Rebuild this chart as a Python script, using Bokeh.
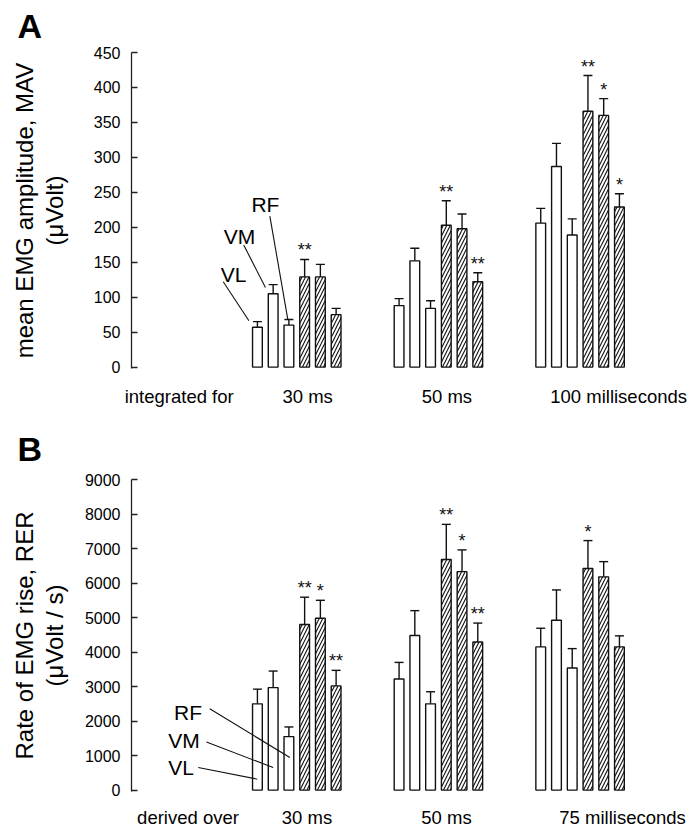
import numpy as np
from bokeh.plotting import figure
from bokeh.models import (Range1d, FixedTicker, ColumnDataSource, Whisker, TeeHead,
                          LinearAxis)
from bokeh.layouts import column
from bokeh.embed import file_html
from bokeh.resources import INLINE
from bokeh.core.properties import value

# ---------------- data ----------------
muscles = ["VL", "VM", "RF"]

groups_A = ["30 ms", "50 ms", "100 milliseconds"]
lead_A = "integrated for"
ytitle_A = ["mean EMG amplitude, MAV", "(\u03bcVolt)"]
yticks_A = [0, 50, 100, 150, 200, 250, 300, 350, 400, 450]

# mean EMG amplitude (uV), per window: VL, VM, RF
mav_open = [[57, 105, 60], [88, 152, 84], [206, 287, 189]]
mav_open_err = [[8, 13, 8], [10, 18, 11], [21, 33, 23]]
mav_hatch = [[129, 129, 75], [203, 198, 122], [366, 360, 229]]
mav_hatch_err = [[25, 18, 9], [35, 21, 13], [51, 24, 19]]
mav_stars = [["**", "", ""], ["**", "", "**"], ["**", "*", "*"]]

groups_B = ["30 ms", "50 ms", "75 milliseconds"]
lead_B = "derived over"
ytitle_B = ["Rate of EMG rise, RER", "(\u03bcVolt / s)"]
yticks_B = [0, 1000, 2000, 3000, 4000, 5000, 6000, 7000, 8000, 9000]

rer_open = [[2500, 2970, 1550], [3220, 4480, 2500], [4150, 4920, 3540]]
rer_open_err = [[425, 480, 280], [480, 720, 350], [540, 880, 560]]
rer_hatch = [[4800, 4980, 3020], [6680, 6330, 4290], [6420, 6180, 4150]]
rer_hatch_err = [[790, 520, 450], [1020, 630, 550], [810, 440, 320]]
rer_stars = [["**", "*", "**"], ["**", "*", "**"], ["*", "", ""]]

# ---------------- style / layout ----------------
FONT = "Liberation Sans"
INK = "#111111"
GROUP_STEP = 9
BAR_W = 0.62
W = 697


def positions():
    xo, xh = [], []
    for g in range(3):
        for j in range(3):
            xo.append(GROUP_STEP * g + j)
            xh.append(GROUP_STEP * g + 3 + j)
    return xo, xh


def flat(a):
    return [v for row in a for v in row]


def make_panel(height, yr, border_top, border_bottom, yticks, vo, eo, vh, eh, stars,
               letter, title_standoff, ytitle, inner_standoff, lead, groups, lab_x,
               lab_standoff, mus_pos, leaders):
    p = figure(width=W, height=height, x_range=Range1d(-8, 27.96), y_range=Range1d(*yr),
               output_backend="svg", toolbar_location=None, title=letter,
               min_border_left=131, min_border_right=0, min_border_top=border_top,
               min_border_bottom=border_bottom)
    p.outline_line_color = None
    p.grid.grid_line_color = None
    p.background_fill_color = "white"
    p.border_fill_color = "white"

    # panel letter as title
    p.title.align = "left"
    p.title.vertical_align = "top"
    p.title.offset = -114
    p.title.standoff = title_standoff
    p.title.text_font = FONT
    p.title.text_font_size = "34px"
    p.title.text_font_style = "bold"
    p.title.text_color = "black"

    ax = p.yaxis[0]
    ax.ticker = FixedTicker(ticks=yticks)
    ax.major_tick_in = 6
    ax.major_tick_out = 0
    ax.minor_tick_line_color = None
    ax.axis_line_color = "#222222"
    ax.axis_line_width = 1.3
    ax.major_tick_line_color = "#222222"
    ax.major_tick_line_width = 1.3
    ax.major_label_text_font = FONT
    ax.major_label_text_font_size = "16px"
    ax.major_label_text_color = "black"
    ax.major_label_standoff = 11
    ax.axis_label = ytitle[1]
    ax.axis_label_text_font = FONT
    ax.axis_label_text_font_size = "24px"
    ax.axis_label_text_font_style = "normal"
    ax.axis_label_text_color = "black"
    ax.axis_label_standoff = inner_standoff

    outer = LinearAxis(ticker=FixedTicker(ticks=[]), axis_label=ytitle[0],
                       axis_line_color=None, major_tick_line_color=None,
                       minor_tick_line_color=None, major_label_standoff=0,
                       major_tick_out=0, major_tick_in=0, axis_label_standoff=0,
                       axis_label_text_font=FONT, axis_label_text_font_size="24px",
                       axis_label_text_font_style="normal", axis_label_text_color="black")
    p.add_layout(outer, "left")

    # group labels via x axis
    xa = p.xaxis[0]
    xa.ticker = FixedTicker(ticks=lab_x)
    xa.major_label_overrides = {x: t for x, t in zip(lab_x, [lead] + groups)}
    xa.axis_line_color = None
    xa.major_tick_line_color = None
    xa.minor_tick_line_color = None
    xa.major_tick_out = 0
    xa.major_tick_in = 0
    xa.major_label_standoff = lab_standoff
    xa.major_label_text_font = FONT
    xa.major_label_text_font_size = "18.5px"
    xa.major_label_text_color = "black"

    xo, xh = positions()
    vo, eo, vh, eh = flat(vo), flat(eo), flat(vh), flat(eh)
    p.vbar(x=xo, top=vo, bottom=0, width=BAR_W, fill_color="white",
           line_color=INK, line_width=1.4)
    p.vbar(x=xh, top=vh, bottom=0, width=BAR_W, fill_color="white",
           line_color=INK, line_width=1.4, hatch_pattern="/", hatch_scale=7,
           hatch_weight=1.1, hatch_color=INK)

    allx = xo + xh
    tops = vo + vh
    ups = [t + e for t, e in zip(vo, eo)] + [t + e for t, e in zip(vh, eh)]
    src = ColumnDataSource(dict(x=allx, lower=tops, upper=ups))
    p.add_layout(Whisker(source=src, base="x", lower="lower", upper="upper",
                         line_color=INK, line_width=1.4, lower_head=None,
                         upper_head=TeeHead(size=9, line_color=INK, line_width=1.4)))

    p.text(x=xh, y=ups[9:], text=flat(stars), text_align="center",
           text_baseline="alphabetic", y_offset=-9, text_font=value(FONT),
           text_font_size="18px", text_color=INK)

    # muscle labels with leader lines
    p.segment(x0=[l[0] for l in leaders], y0=[l[1] for l in leaders],
              x1=[l[2] for l in leaders], y1=[l[3] for l in leaders],
              line_color=INK, line_width=1.1)
    p.text(x=[m[0] for m in mus_pos], y=[m[1] for m in mus_pos], text=muscles,
           text_align="center", text_baseline="alphabetic", y_offset=-9,
           text_font=value(FONT), text_font_size="21px", text_color="black")
    return p


pA = make_panel(
    418, (-2, 450), 52, 50, yticks_A, mav_open, mav_open_err, mav_hatch, mav_hatch_err,
    mav_stars, "A", 12, ytitle_A, 23, lead_A, groups_A,
    [-4.97, 3.19, 12.04, 22.95], 17,
    [(-1.52, 120.2), (-1.14, 174.5), (0.51, 220.3)],
    [(-2.17, 122, -0.54, 66.2), (-0.87, 174.5, 0.51, 114), (0.79, 216, 1.93, 68.2)],
)

pB = make_panel(
    412, (-40, 9000), 61, 38, yticks_B, rer_open, rer_open_err, rer_hatch, rer_hatch_err,
    rer_stars, "B", 20, ytitle_B, 14, lead_B, groups_B,
    [-4.41, 3.15, 12.01, 23.2], 15,
    [(-4.855, 404), (-4.66, 1183), (-4.41, 1990)],
    [(-3.76, 655, -0.01, 317), (-3.24, 1393, 1.0, 655), (-3.03, 2357, 2.06, 943)],
)

layout = column(pA, pB)
open("out.html", "w").write(file_html(layout, INLINE))
